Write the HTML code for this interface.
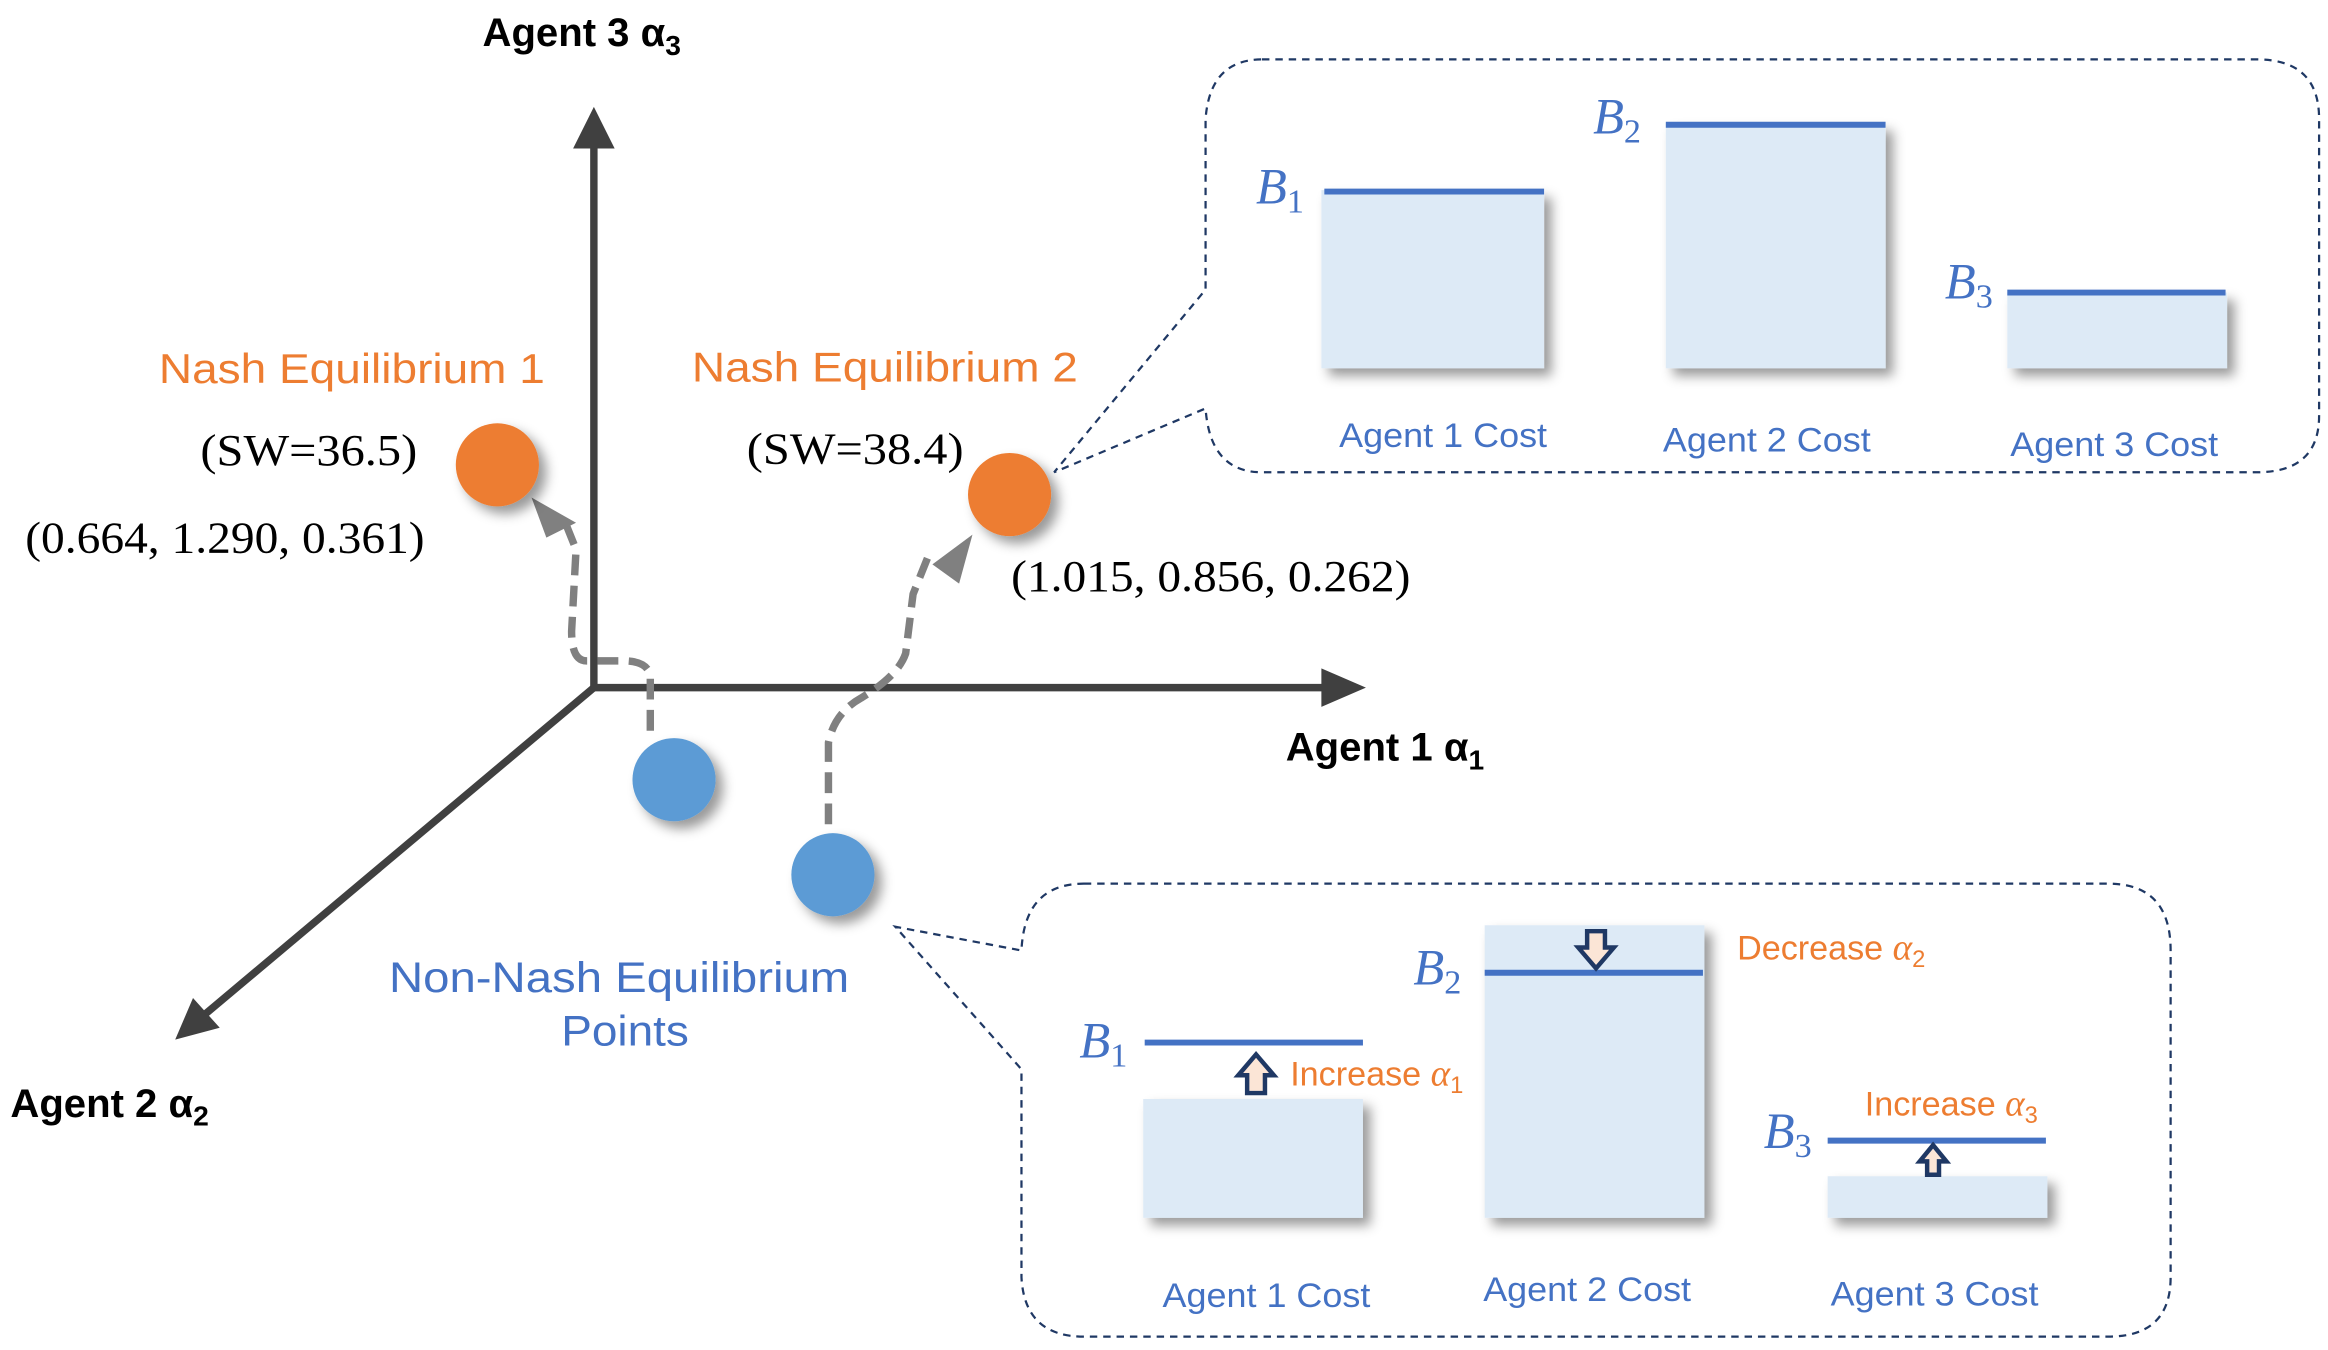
<!DOCTYPE html>
<html><head><meta charset="utf-8"><style>html,body{margin:0;padding:0;background:#fff}svg{display:block}</style></head><body>
<svg width="2328" height="1350" viewBox="0 0 1568 909" preserveAspectRatio="none" xmlns="http://www.w3.org/2000/svg">
<defs>
<filter id="sh" x="-30%" y="-30%" width="170%" height="170%"><feDropShadow dx="5" dy="5" stdDeviation="4" flood-color="#000" flood-opacity="0.4"/></filter>
</defs>
<rect width="1568" height="909" fill="#fff"/>
<g stroke="#404040" stroke-width="5" fill="none">
<line x1="400" y1="465" x2="400" y2="98"/>
<line x1="398" y1="463" x2="892" y2="463"/>
<line x1="400" y1="463" x2="138" y2="683"/>
</g>
<path d="M400,72 L386,100 L414,100z" fill="#404040"/>
<path d="M920,463 L890,450 L890,476z" fill="#404040"/>
<path d="M118,700 L130,672 L148,692z" fill="#404040"/>
<g font-family="Liberation Sans, sans-serif" font-weight="bold" font-size="27" fill="#000">
<text x="325" y="31">Agent 3 α<tspan font-size="19" dy="6">3</tspan></text>
<text x="866" y="512">Agent 1 α<tspan font-size="19" dy="6">1</tspan></text>
<text x="7" y="752">Agent 2 α<tspan font-size="19" dy="6">2</tspan></text>
</g>
<g stroke="#808080" stroke-width="5" fill="none" stroke-dasharray="14,7">
<path d="M438,492 L438,455 Q436,445 420,445 L395,445 Q385,445 385,425 L388,370 L380,350"/>
<path d="M558,555 L558,500 Q562,480 580,470 Q605,455 610,440 L615,400 L625,375"/>
</g>
<path d="M358,335 L388,352 L368,362z" fill="#808080"/>
<path d="M655,360 L646,393 L628,380z" fill="#808080"/>
<g filter="url(#sh)">
<circle cx="335" cy="313" r="28" fill="#ED7D31"/>
<circle cx="680" cy="333" r="28" fill="#ED7D31"/>
<circle cx="454" cy="525" r="28" fill="#5B9BD5"/>
<circle cx="561" cy="589" r="28" fill="#5B9BD5"/>
</g>
<g font-family="Liberation Sans, sans-serif" font-size="28" fill="#ED7D31" lengthAdjust="spacingAndGlyphs">
<text x="107" y="258" textLength="260" lengthAdjust="spacingAndGlyphs">Nash Equilibrium 1</text>
<text x="466" y="257" textLength="260" lengthAdjust="spacingAndGlyphs">Nash Equilibrium 2</text>
</g>
<g font-family="Liberation Serif, serif" font-size="30" fill="#000">
<text x="135" y="313" textLength="146" lengthAdjust="spacingAndGlyphs">(SW=36.5)</text>
<text x="17" y="372" textLength="269" lengthAdjust="spacingAndGlyphs">(0.664, 1.290, 0.361)</text>
<text x="503" y="312" textLength="146" lengthAdjust="spacingAndGlyphs">(SW=38.4)</text>
<text x="681" y="398" textLength="269" lengthAdjust="spacingAndGlyphs">(1.015, 0.856, 0.262)</text>
</g>
<g font-family="Liberation Sans, sans-serif" font-size="29" fill="#4472C4">
<text x="262" y="668" textLength="310" lengthAdjust="spacingAndGlyphs">Non-Nash Equilibrium</text>
<text x="378" y="704" textLength="86" lengthAdjust="spacingAndGlyphs">Points</text>
</g>
<path d="M850,40 L1520,40 Q1562,40 1562,80 L1562,280 Q1562,318 1520,318 L850,318 Q815,318 812,275 L710,318 L812,195 L812,80 Q815,40 850,40z" fill="none" stroke="#1F3864" stroke-width="1.5" stroke-dasharray="5,4"/>
<g filter="url(#sh)" fill="#DDEAF6">
<rect x="890" y="128" width="150" height="120"/>
<rect x="1122" y="83" width="148" height="165"/>
<rect x="1352" y="197" width="148" height="51"/>
</g>
<g stroke="#4472C4" stroke-width="4">
<line x1="892" y1="129" x2="1040" y2="129"/>
<line x1="1122" y1="84" x2="1270" y2="84"/>
<line x1="1352" y1="197" x2="1499" y2="197"/>
</g>
<g font-family="Liberation Serif, serif" font-style="italic" font-size="34" fill="#4472C4">
<text x="846" y="137">B<tspan font-style="normal" font-size="23" dy="6">1</tspan></text>
<text x="1073" y="90">B<tspan font-style="normal" font-size="23" dy="6">2</tspan></text>
<text x="1310" y="201">B<tspan font-style="normal" font-size="23" dy="6">3</tspan></text>
<text x="727" y="712">B<tspan font-style="normal" font-size="23" dy="6">1</tspan></text>
<text x="952" y="663">B<tspan font-style="normal" font-size="23" dy="6">2</tspan></text>
<text x="1188" y="773">B<tspan font-style="normal" font-size="23" dy="6">3</tspan></text>
</g>
<g font-family="Liberation Sans, sans-serif" font-size="23" fill="#4472C4">
<text x="902" y="301" textLength="140" lengthAdjust="spacingAndGlyphs">Agent 1 Cost</text>
<text x="1120" y="304" textLength="140" lengthAdjust="spacingAndGlyphs">Agent 2 Cost</text>
<text x="1354" y="307" textLength="140" lengthAdjust="spacingAndGlyphs">Agent 3 Cost</text>
<text x="783" y="880" textLength="140" lengthAdjust="spacingAndGlyphs">Agent 1 Cost</text>
<text x="999" y="876" textLength="140" lengthAdjust="spacingAndGlyphs">Agent 2 Cost</text>
<text x="1233" y="879" textLength="140" lengthAdjust="spacingAndGlyphs">Agent 3 Cost</text>
</g>
<path d="M730,595 L1420,595 Q1462,595 1462,640 L1462,860 Q1462,900 1420,900 L730,900 Q690,900 688,860 L688,720 L603,624 L688,640 Q690,595 730,595z" fill="none" stroke="#1F3864" stroke-width="1.5" stroke-dasharray="5,4"/>
<g filter="url(#sh)" fill="#DDEAF6">
<rect x="770" y="740" width="148" height="80"/>
<rect x="1000" y="623" width="148" height="197"/>
<rect x="1231" y="792" width="148" height="28"/>
</g>
<g stroke="#4472C4" stroke-width="4">
<line x1="771" y1="702" x2="918" y2="702"/>
<line x1="1000" y1="655" x2="1147" y2="655"/>
<line x1="1231" y1="768" x2="1378" y2="768"/>
</g>
<g fill="#FBE5D6" stroke="#1F3864" stroke-width="3">
<path d="M846,710 L858,724 L852,724 L852,736 L840,736 L840,724 L834,724z"/>
<path d="M1075,652 L1063,638 L1069,638 L1069,627 L1081,627 L1081,638 L1087,638z"/>
<path d="M1302,771 L1311,782 L1306,782 L1306,791 L1298,791 L1298,782 L1293,782z"/>
</g>
<g font-family="Liberation Sans, sans-serif" font-size="23" fill="#ED7D31">
<text x="869" y="731">Increase <tspan font-family="Liberation Serif, serif" font-style="italic" font-size="25">α</tspan><tspan font-size="16" dy="5">1</tspan></text>
<text x="1170" y="646">Decrease <tspan font-family="Liberation Serif, serif" font-style="italic" font-size="25">α</tspan><tspan font-size="16" dy="5">2</tspan></text>
<text x="1256" y="751">Increase <tspan font-family="Liberation Serif, serif" font-style="italic" font-size="25">α</tspan><tspan font-size="16" dy="5">3</tspan></text>
</g>
</svg>
</body></html>
